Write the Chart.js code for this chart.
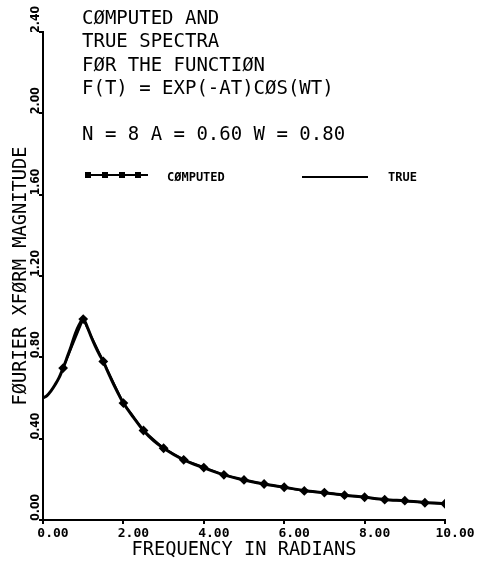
<!DOCTYPE html>
<html>
<head>
<meta charset="utf-8">
<script src="https://cdn.jsdelivr.net/npm/chart.js@4.4.1/dist/chart.umd.min.js"></script>
<style>
    html, body { margin: 0; padding: 0; background: #fff; }
    #wrap { position: relative; width: 477px; height: 563px; }
    canvas { position: absolute; left: 0; top: 0; }
    .note { position: absolute; font-family: 'DejaVu Sans Mono', monospace; color: #000; white-space: pre; }
    .key { font-size: 12px; font-weight: bold; line-height: 14px; top: 170px; }
</style>
</head>
<body>
<div id="wrap">
    <canvas id="chart-spectra" width="477" height="563"></canvas>
    <div class="note" style="left:82px; top:6px; font-size:19px; line-height:23.3px;">CØMPUTED AND
TRUE SPECTRA
FØR THE FUNCTIØN
F(T) = EXP(-AT)CØS(WT)

N = 8 A = 0.60 W = 0.80</div>
    <div class="note key" style="left:167px;">CØMPUTED</div>
    <div class="note key" style="left:388px;">TRUE</div>
</div>
<script>
// Axis ticks
const freqTicks = [0, 2, 4, 6, 8, 10];
const freqTickLabels = ['0.00', '2.00', '4.00', '6.00', '8.00', '10.00'];
const magTicks = [0, 0.4, 0.8, 1.2, 1.6, 2.0, 2.4];
const magTickLabels = ['0.00', '0.40', '0.80', '1.20', '1.60', '2.00', '2.40'];

// True spectrum (solid curve)
const trueFreq = [0, 0.1, 0.2, 0.3, 0.4, 0.5, 0.6, 0.7, 0.8, 0.9, 1.0, 1.1, 1.2, 1.3, 1.4, 1.5, 1.6, 1.8, 2.0,
    2.25, 2.5, 2.75, 3.0, 3.5, 4.0, 4.5, 5.0, 5.5, 6.0, 6.5, 7.0, 7.5, 8.0, 8.5, 9.0, 9.5, 10.0];
const trueMag = [0.60, 0.612, 0.635, 0.665, 0.70, 0.747, 0.80, 0.855, 0.915, 0.96, 0.988, 0.95, 0.90, 0.855, 0.815, 0.78, 0.735, 0.65, 0.575,
    0.505, 0.44, 0.39, 0.353, 0.296, 0.257, 0.222, 0.197, 0.177, 0.161, 0.145, 0.134, 0.122, 0.112, 0.101, 0.094, 0.086, 0.080];

// Computed spectrum (marked points)
const compFreq = [0.5, 1.0, 1.5, 2.0, 2.5, 3.0, 3.5, 4.0, 4.5, 5.0, 5.5, 6.0, 6.5, 7.0, 7.5, 8.0, 8.5, 9.0, 9.5, 10.0];
const compMag = [0.747, 0.988, 0.780, 0.575, 0.440, 0.353, 0.296, 0.258, 0.222, 0.197, 0.177, 0.161, 0.143, 0.135, 0.122, 0.112, 0.100, 0.095, 0.085, 0.080];

const ink = '#000';
const mono = "'DejaVu Sans Mono', monospace";

// legend key samples drawn in the plot area
const legendSamples = {
    id: 'legendSamples',
    afterDraw(chart) {
        const ctx = chart.ctx;
        ctx.save();
        ctx.strokeStyle = ink;
        ctx.fillStyle = ink;
        ctx.lineWidth = 2;
        ctx.beginPath(); ctx.moveTo(85, 175); ctx.lineTo(148, 175); ctx.stroke();
        [88, 105, 122, 138].forEach(x => ctx.fillRect(x - 3, 172, 6, 6));
        ctx.beginPath(); ctx.moveTo(302, 177); ctx.lineTo(368, 177); ctx.stroke();
        ctx.restore();
    }
};

new Chart(document.getElementById('chart-spectra'), {
    type: 'line',
    data: {
        datasets: [{
            label: 'TRUE',
            data: trueFreq.map((x, i) => ({ x, y: trueMag[i] })),
            borderColor: ink,
            borderWidth: 3,
            pointRadius: 0,
            cubicInterpolationMode: 'monotone',
            fill: false
        }, {
            label: 'COMPUTED',
            data: compFreq.map((x, i) => ({ x, y: compMag[i] })),
            borderColor: ink,
            backgroundColor: ink,
            borderWidth: 2,
            pointStyle: 'rectRot',
            pointRadius: 3.5,
            pointBackgroundColor: ink,
            pointBorderColor: ink,
            fill: false
        }]
    },
    options: {
        responsive: false,
        animation: false,
        layout: { padding: { top: 32, right: 32, left: 0, bottom: 0 }, autoPadding: false },
        plugins: { legend: { display: false }, tooltip: { enabled: false } },
        scales: {
            x: {
                type: 'linear',
                min: 0,
                max: 10,
                afterBuildTicks: s => { s.ticks = freqTicks.map(v => ({ value: v })); },
                afterFit: s => { s.height = 43; },
                border: { color: ink, width: 2 },
                grid: { drawOnChartArea: false, tickLength: 4, color: ink, lineWidth: 2 },
                ticks: {
                    color: ink,
                    padding: 2,
                    labelOffset: 10,
                    maxRotation: 0,
                    font: { family: mono, size: 13, weight: 'bold' },
                    callback: (v, i) => freqTickLabels[i]
                },
                title: {
                    display: true,
                    text: 'FREQUENCY IN RADIANS',
                    color: ink,
                    font: { family: mono, size: 18.7, lineHeight: 1.2 },
                    padding: { top: 0, bottom: 2 }
                }
            },
            y: {
                type: 'linear',
                min: 0,
                max: 2.4,
                afterBuildTicks: s => { s.ticks = magTicks.map(v => ({ value: v })); },
                afterFit: s => { s.width = 43; },
                border: { color: ink, width: 2 },
                grid: { drawOnChartArea: false, tickLength: 4, color: ink, lineWidth: 2 },
                ticks: {
                    color: ink,
                    padding: 3,
                    minRotation: 90,
                    maxRotation: 90,
                    labelOffset: -26,
                    font: { family: "'DejaVu Sans Condensed', 'DejaVu Sans', sans-serif", size: 12, weight: 'bold' },
                    callback: (v, i) => magTickLabels[i]
                },
                title: {
                    display: true,
                    text: 'FØURIER XFØRM MAGNITUDE',
                    color: ink,
                    font: { family: mono, size: 18.7, lineHeight: 1.2 },
                    padding: { top: 10, bottom: 0 }
                }
            }
        }
    },
    plugins: [legendSamples]
});
</script>
</body>
</html>
